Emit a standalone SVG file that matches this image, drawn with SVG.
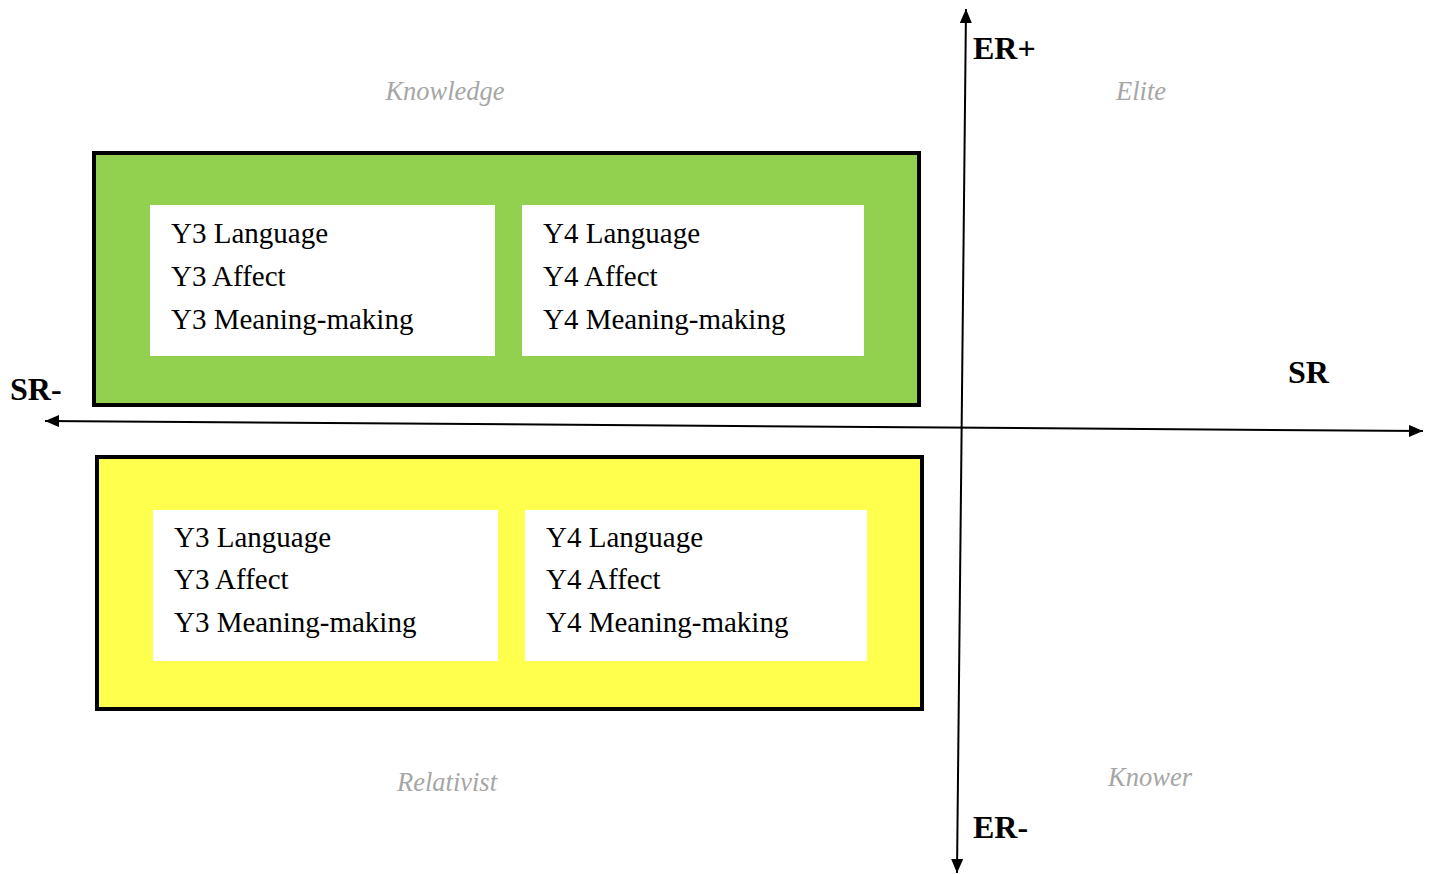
<svg xmlns="http://www.w3.org/2000/svg" width="1429" height="874" viewBox="0 0 1429 874">
  <defs>
    <marker id="arrow" viewBox="0 0 14 12" refX="14" refY="6" markerWidth="14" markerHeight="12" orient="auto" markerUnits="userSpaceOnUse">
      <path d="M0,0 L14,6 L0,12 z" fill="#000"/>
    </marker>
    <style>
      .axis { stroke: #000; stroke-width: 2; fill: none; }
      .axis-label { font-family: "Liberation Serif", serif; font-weight: bold; font-size: 32px; fill: #000; }
      .quad { font-family: "Liberation Serif", serif; font-style: italic; font-size: 26.5px; fill: #a6a6a6; text-anchor: middle; }
      .band { stroke: #000; stroke-width: 4; }
      .card { fill: #fff; }
      .item { font-family: "Liberation Serif", serif; font-size: 29px; fill: #000; }
    </style>
  </defs>

  <!-- axes -->
  <g id="connectors">
    <line class="axis" x1="961.5" y1="441" x2="966" y2="9" marker-end="url(#arrow)"/>
    <line class="axis" x1="961.5" y1="441" x2="957" y2="873" marker-end="url(#arrow)"/>
    <line class="axis" x1="734" y1="426" x2="45" y2="421" marker-end="url(#arrow)"/>
    <line class="axis" x1="734" y1="426" x2="1423" y2="431" marker-end="url(#arrow)"/>
  </g>

  <g id="axis-labels">
    <text class="axis-label" x="973" y="59">ER+</text>
    <text class="axis-label" x="973" y="838">ER-</text>
    <text class="axis-label" x="10" y="400">SR-</text>
    <text class="axis-label" x="1288" y="383">SR</text>
  </g>

  <g id="quadrants">
    <text class="quad" x="445" y="100">Knowledge</text>
    <text class="quad" x="1141" y="100">Elite</text>
    <text class="quad" x="447" y="791">Relativist</text>
    <text class="quad" x="1150" y="786">Knower</text>
  </g>

  <!-- upper band -->
  <g id="knowledge-band">
    <rect class="band" x="94" y="153" width="825" height="252" fill="#92d050"/>
    <g id="knowledge-y3">
      <rect class="card" x="150" y="205" width="345" height="151"/>
      <text class="item" x="171" y="243">Y3 Language</text>
      <text class="item" x="171" y="286">Y3 Affect</text>
      <text class="item" x="171" y="329">Y3 Meaning-making</text>
    </g>
    <g id="knowledge-y4">
      <rect class="card" x="522" y="205" width="342" height="151"/>
      <text class="item" x="543" y="243">Y4 Language</text>
      <text class="item" x="543" y="286">Y4 Affect</text>
      <text class="item" x="543" y="329">Y4 Meaning-making</text>
    </g>
  </g>

  <!-- lower band -->
  <g id="relativist-band">
    <rect class="band" x="97" y="457" width="825" height="252" fill="#ffff4d"/>
    <g id="relativist-y3">
      <rect class="card" x="153" y="510" width="345" height="151"/>
      <text class="item" x="174" y="547">Y3 Language</text>
      <text class="item" x="174" y="589">Y3 Affect</text>
      <text class="item" x="174" y="632">Y3 Meaning-making</text>
    </g>
    <g id="relativist-y4">
      <rect class="card" x="525" y="510" width="342" height="151"/>
      <text class="item" x="546" y="547">Y4 Language</text>
      <text class="item" x="546" y="589">Y4 Affect</text>
      <text class="item" x="546" y="632">Y4 Meaning-making</text>
    </g>
  </g>
</svg>
